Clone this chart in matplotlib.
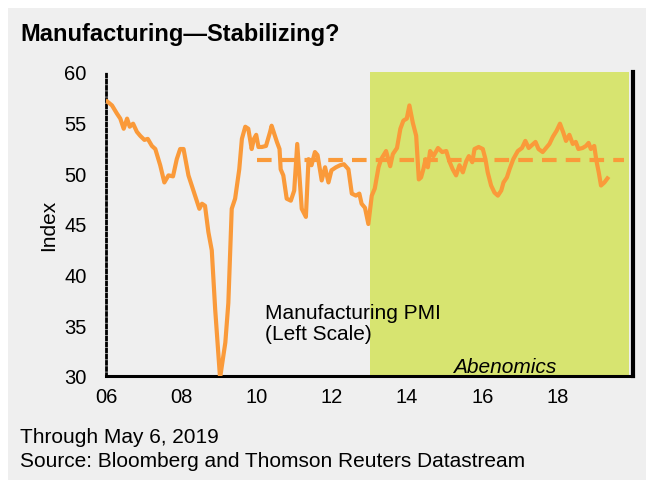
import matplotlib
matplotlib.use("Agg")
import matplotlib.pyplot as plt
from matplotlib.patches import Rectangle

plt.rcParams['font.family'] = ['Liberation Sans', 'DejaVu Sans']

# traced PMI points (fractional year, index)
dates = [2006.03, 2006.16, 2006.29, 2006.38, 2006.47, 2006.56, 2006.63, 2006.72,
         2006.82, 2006.91, 2007.02, 2007.11, 2007.22, 2007.31, 2007.44, 2007.55,
         2007.66, 2007.78, 2007.88, 2007.97, 2008.06, 2008.19, 2008.34, 2008.48,
         2008.55, 2008.63, 2008.72, 2008.81, 2008.90, 2009.03, 2009.17, 2009.25,
         2009.34, 2009.43, 2009.54, 2009.61, 2009.70, 2009.78, 2009.87, 2009.93,
         2009.99, 2010.05, 2010.14, 2010.25, 2010.36, 2010.40, 2010.54, 2010.61,
         2010.64, 2010.71, 2010.80, 2010.91, 2011.00, 2011.08, 2011.20, 2011.31,
         2011.38, 2011.46, 2011.55, 2011.62, 2011.73, 2011.82, 2011.91, 2011.99,
         2012.11, 2012.22, 2012.32, 2012.44, 2012.53, 2012.64, 2012.73, 2012.79,
         2012.88, 2012.97, 2013.06, 2013.14, 2013.24, 2013.31, 2013.44, 2013.55,
         2013.62, 2013.73, 2013.82, 2013.90, 2013.99, 2014.06, 2014.15, 2014.24,
         2014.31, 2014.37, 2014.43, 2014.49, 2014.55, 2014.61, 2014.70, 2014.82,
         2014.93, 2015.04, 2015.12, 2015.21, 2015.30, 2015.39, 2015.48, 2015.57,
         2015.64, 2015.73, 2015.79, 2015.90, 2016.01, 2016.08, 2016.14, 2016.23,
         2016.32, 2016.41, 2016.50, 2016.56, 2016.65, 2016.72, 2016.82, 2016.94,
         2017.05, 2017.14, 2017.23, 2017.32, 2017.41, 2017.49, 2017.60, 2017.69,
         2017.78, 2017.87, 2017.97, 2018.06, 2018.15, 2018.22, 2018.31, 2018.40,
         2018.48, 2018.55, 2018.66, 2018.75, 2018.82, 2018.88, 2018.97, 2019.03,
         2019.09, 2019.15, 2019.24, 2019.32]
pmi = [57.1, 56.7, 55.9, 55.4, 54.4, 55.4, 54.6, 54.9,
       54.1, 53.7, 53.3, 53.4, 52.7, 52.4, 50.8, 49.1,
       49.8, 49.7, 51.4, 52.4, 52.4, 49.8, 48.1, 46.5,
       47.0, 46.8, 44.2, 42.4, 36.6, 29.8, 33.3, 37.2,
       46.5, 47.5, 50.4, 53.4, 54.6, 54.4, 52.4, 53.4,
       53.8, 52.6, 52.6, 52.7, 54.1, 54.7, 53.1, 52.4,
       50.4, 49.8, 47.5, 47.3, 48.3, 52.9, 46.5, 45.7,
       51.4, 50.8, 52.1, 51.8, 49.3, 50.6, 49.1, 50.3,
       50.6, 50.8, 50.9, 50.4, 48.0, 47.8, 48.0, 47.0,
       46.6, 45.0, 47.8, 48.5, 50.6, 51.4, 52.2, 50.7,
       51.9, 52.5, 54.4, 55.2, 55.4, 56.7, 55.0, 53.7,
       49.4, 49.6, 50.4, 51.4, 50.6, 52.2, 51.7, 52.5,
       52.1, 52.2, 51.2, 50.4, 49.8, 50.8, 50.1, 51.2,
       51.7, 51.1, 52.4, 52.6, 52.4, 51.4, 50.1, 48.8,
       48.1, 47.8, 48.3, 49.1, 49.6, 50.4, 51.4, 52.2,
       52.5, 53.2, 52.5, 52.8, 53.1, 52.4, 52.1, 52.5,
       52.9, 53.6, 54.2, 54.9, 54.0, 53.2, 53.8, 52.9,
       53.1, 52.4, 52.5, 52.7, 53.0, 52.4, 52.7, 51.2,
       50.1, 48.8, 49.1, 49.5]

avg_start, avg_end, avg_level = 2010.0, 2019.77, 51.3
abe_start, abe_end = 2013.0, 2019.9
xticks = [2006, 2008, 2010, 2012, 2014, 2016, 2018]
xlabels = ['06', '08', '10', '12', '14', '16', '18']
yticks = [30, 35, 40, 45, 50, 55, 60]

orange = '#fa9a3a'
green = '#d7e470'
bg = '#efefef'

fig = plt.figure(figsize=(6.46, 4.81), dpi=100)
fig.patch.set_facecolor('white')
fig.patches.append(Rectangle((8/646, 0), 1, 1 - 9/481, transform=fig.transFigure,
                             facecolor=bg, edgecolor='none', zorder=-10))

ax = fig.add_axes([106/646, 1 - 377/481, 527/646, 304/481])
ax.set_facecolor(bg)
ax.axvspan(abe_start, abe_end, color=green, lw=0, zorder=0)
ax.plot(dates, pmi, color=orange, lw=3, solid_joinstyle='round', zorder=3)
ax.plot([avg_start, avg_end], [avg_level, avg_level], color=orange, lw=3,
        dashes=(3.5, 2.2), zorder=3)

ax.set_xlim(2006, 2020)
ax.set_ylim(30, 60)
ax.set_xticks(xticks)
ax.set_xticklabels(xlabels)
ax.set_yticks(yticks)
ax.tick_params(length=0, labelsize=14.5, colors='black')
ax.tick_params(axis='y', pad=14)
ax.tick_params(axis='x', pad=8)

ax.spines['top'].set_visible(False)
ax.spines['left'].set_linestyle((0, (1, 1.2)))
ax.spines['left'].set_linewidth(2)
ax.spines['bottom'].set_linewidth(2.2)
ax.spines['right'].set_linewidth(3)

ax.set_ylabel('Index', fontsize=15, labelpad=4)

ax.text(2010.22, 37.2, 'Manufacturing PMI\n(Left Scale)', fontsize=15,
        va='top', ha='left', linespacing=1.1, zorder=4)
ax.text(2016.6, 30.4, 'Abenomics', fontsize=15, style='italic',
        ha='center', va='baseline', zorder=4)

fig.text(20/646, 1 - 41/481, 'Manufacturing\u2014Stabilizing?', fontsize=17,
         fontweight='bold', va='baseline', ha='left')
fig.text(20/646, 1 - 443/481, 'Through May 6, 2019', fontsize=15, va='baseline')
fig.text(20/646, 1 - 467/481, 'Source: Bloomberg and Thomson Reuters Datastream',
         fontsize=15, va='baseline')

fig.savefig('out.png', dpi=100, facecolor=fig.get_facecolor())
